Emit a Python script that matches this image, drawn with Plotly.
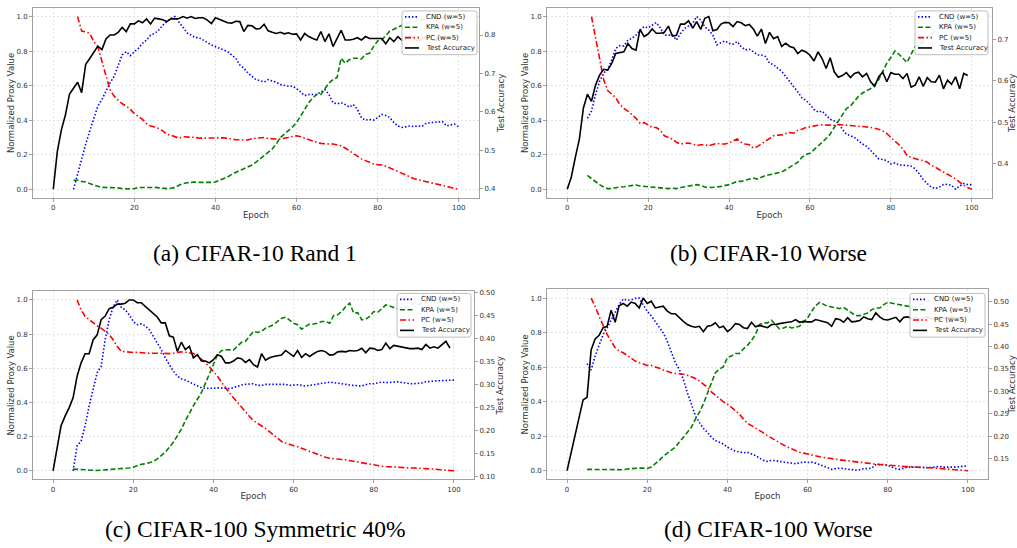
import plotly.graph_objects as go

# ---------------- data ----------------
acc_epochs = list(range(0, 100))
cnd_kpa_epochs = list(range(5, 101))
pc_epochs = list(range(6, 101))

# (a) CIFAR-10 Rand 1
a_acc = [0.398, 0.497, 0.553, 0.592, 0.646, 0.66, 0.677, 0.65, 0.724, 0.739,
         0.755, 0.771, 0.762, 0.79, 0.80, 0.80, 0.807, 0.82, 0.809, 0.829,
         0.829, 0.837, 0.832, 0.842, 0.829, 0.844, 0.842, 0.84, 0.835, 0.842,
         0.842, 0.843, 0.848, 0.844, 0.848, 0.843, 0.845, 0.845, 0.839, 0.83,
         0.845, 0.841, 0.835, 0.832, 0.831, 0.836, 0.835, 0.809, 0.825, 0.824,
         0.816, 0.817, 0.828, 0.811, 0.807, 0.804, 0.807, 0.803, 0.806, 0.802,
         0.803, 0.787, 0.804, 0.796, 0.791, 0.787, 0.809, 0.783, 0.803, 0.77,
         0.791, 0.812, 0.787, 0.787, 0.789, 0.793, 0.787, 0.796, 0.791, 0.791,
         0.791, 0.791, 0.777, 0.793, 0.783, 0.796, 0.786, 0.79, 0.795, 0.79,
         0.785, 0.79, 0.795, 0.79, 0.785, 0.79, 0.795, 0.79, 0.79, 0.795]
a_cnd = [0.0, 0.09, 0.166, 0.262, 0.338, 0.415, 0.482, 0.52, 0.568, 0.616,
         0.654, 0.72, 0.778, 0.797, 0.774, 0.797, 0.816, 0.845, 0.864, 0.893,
         0.902, 0.922, 0.95, 0.97, 0.989, 1.0, 0.97, 0.935, 0.906, 0.893,
         0.878, 0.878, 0.864, 0.845, 0.836, 0.826, 0.816, 0.807, 0.797, 0.778,
         0.759, 0.72, 0.702, 0.673, 0.654, 0.635, 0.629, 0.621, 0.635, 0.629,
         0.62, 0.606, 0.6, 0.597, 0.597, 0.583, 0.564, 0.543, 0.549, 0.549,
         0.549, 0.564, 0.577, 0.549, 0.501, 0.495, 0.501, 0.491, 0.476, 0.491,
         0.463, 0.415, 0.4, 0.405, 0.4, 0.415, 0.434, 0.428, 0.415, 0.386,
         0.367, 0.358, 0.363, 0.367, 0.363, 0.367, 0.365, 0.382, 0.386, 0.386,
         0.39, 0.392, 0.367, 0.373, 0.377, 0.361]
a_kpa = [0.052, 0.052, 0.046, 0.042, 0.033, 0.023, 0.017, 0.011, 0.011, 0.01,
         0.01, 0.008, 0.004, 0.002, 0.002, 0.004, 0.01, 0.01, 0.008, 0.01,
         0.011, 0.008, 0.004, 0.004, 0.006, 0.01, 0.023, 0.033, 0.038, 0.042,
         0.042, 0.04, 0.042, 0.04, 0.04, 0.042, 0.052, 0.061, 0.071, 0.086,
         0.1, 0.109, 0.119, 0.128, 0.141, 0.157, 0.176, 0.195, 0.214, 0.233,
         0.262, 0.3, 0.319, 0.338, 0.361, 0.386, 0.424, 0.463, 0.501, 0.53,
         0.549, 0.549, 0.583, 0.616, 0.635, 0.648, 0.759, 0.73, 0.75, 0.759,
         0.759, 0.755, 0.782, 0.788, 0.826, 0.859, 0.864, 0.893, 0.916, 0.927,
         0.94, 0.95, 0.96, 0.97, 0.97, 0.98, 0.98, 0.99, 0.99, 1.0,
         0.99, 0.99, 1.0, 0.99, 1.0, 0.99]
a_pc = [1.0, 0.916, 0.912, 0.902, 0.855, 0.826, 0.74, 0.654, 0.577, 0.539,
        0.516, 0.495, 0.482, 0.463, 0.438, 0.424, 0.405, 0.38, 0.367, 0.361,
        0.352, 0.338, 0.319, 0.313, 0.304, 0.296, 0.304, 0.304, 0.3, 0.3,
        0.296, 0.296, 0.3, 0.3, 0.3, 0.3, 0.298, 0.294, 0.289, 0.287,
        0.287, 0.287, 0.285, 0.293, 0.294, 0.296, 0.3, 0.294, 0.291, 0.291,
        0.291, 0.294, 0.3, 0.306, 0.31, 0.304, 0.296, 0.289, 0.277, 0.272,
        0.266, 0.262, 0.262, 0.262, 0.258, 0.252, 0.239, 0.224, 0.205, 0.195,
        0.176, 0.166, 0.157, 0.147, 0.143, 0.141, 0.134, 0.124, 0.113, 0.1,
        0.09, 0.08, 0.071, 0.061, 0.055, 0.05, 0.042, 0.036, 0.033, 0.027,
        0.023, 0.017, 0.01, 0.006, 0.0]

# (b) CIFAR-10 Worse
b_acc = [0.339, 0.368, 0.416, 0.46, 0.535, 0.568, 0.551, 0.59, 0.614, 0.628,
         0.626, 0.642, 0.666, 0.668, 0.67, 0.69, 0.678, 0.674, 0.724, 0.707,
         0.713, 0.725, 0.715, 0.715, 0.717, 0.732, 0.708, 0.71, 0.737, 0.737,
         0.745, 0.727, 0.743, 0.724, 0.751, 0.755, 0.721, 0.724, 0.737, 0.741,
         0.74, 0.731, 0.743, 0.74, 0.733, 0.736, 0.725, 0.708, 0.725, 0.69,
         0.717, 0.702, 0.707, 0.683, 0.691, 0.683, 0.68, 0.666, 0.674, 0.67,
         0.662, 0.648, 0.67, 0.654, 0.63, 0.656, 0.622, 0.609, 0.613, 0.62,
         0.608, 0.618, 0.621, 0.61, 0.618, 0.598, 0.587, 0.61, 0.621, 0.598,
         0.62, 0.616, 0.616, 0.606, 0.618, 0.585, 0.59, 0.61, 0.587, 0.608,
         0.598, 0.597, 0.614, 0.581, 0.602, 0.592, 0.61, 0.581, 0.618, 0.613]
b_cnd = [0.411, 0.453, 0.549, 0.625, 0.673, 0.692, 0.75, 0.816, 0.832, 0.83,
         0.864, 0.874, 0.893, 0.922, 0.941, 0.935, 0.95, 0.966, 0.935, 0.893,
         0.893, 0.893, 0.864, 0.902, 0.931, 0.946, 0.96, 1.0, 0.979, 0.941,
         0.922, 0.893, 0.836, 0.849, 0.859, 0.845, 0.84, 0.855, 0.826, 0.807,
         0.811, 0.797, 0.778, 0.778, 0.769, 0.73, 0.721, 0.702, 0.683, 0.654,
         0.625, 0.597, 0.564, 0.53, 0.516, 0.491, 0.463, 0.447, 0.453, 0.428,
         0.405, 0.396, 0.386, 0.348, 0.319, 0.31, 0.3, 0.281, 0.262, 0.249,
         0.224, 0.195, 0.176, 0.172, 0.166, 0.147, 0.153, 0.141, 0.141, 0.138,
         0.134, 0.119, 0.09, 0.057, 0.033, 0.013, 0.004, 0.013, 0.027, 0.029,
         0.023, 0.0, 0.019, 0.033, 0.027, 0.027]
b_kpa = [0.08, 0.061, 0.042, 0.027, 0.013, 0.004, 0.004, 0.01, 0.013, 0.015,
         0.019, 0.023, 0.025, 0.019, 0.017, 0.015, 0.011, 0.008, 0.006, 0.004,
         0.004, 0.006, 0.004, 0.01, 0.015, 0.019, 0.021, 0.027, 0.023, 0.013,
         0.01, 0.01, 0.013, 0.017, 0.021, 0.027, 0.036, 0.046, 0.046, 0.052,
         0.061, 0.065, 0.059, 0.071, 0.08, 0.084, 0.088, 0.092, 0.1, 0.113,
         0.128, 0.138, 0.157, 0.185, 0.201, 0.208, 0.228, 0.252, 0.272, 0.294,
         0.319, 0.358, 0.396, 0.434, 0.467, 0.482, 0.511, 0.539, 0.558, 0.572,
         0.583, 0.606, 0.635, 0.683, 0.73, 0.763, 0.801, 0.782, 0.755, 0.734,
         0.782, 0.826, 0.832, 0.859, 0.88, 0.9, 0.92, 0.94, 0.95, 0.96,
         0.97, 0.98, 0.99, 1.0, 0.99, 1.0]
b_pc = [1.0, 0.874, 0.74, 0.635, 0.572, 0.549, 0.53, 0.491, 0.468, 0.453,
        0.434, 0.411, 0.382, 0.386, 0.373, 0.358, 0.358, 0.342, 0.31, 0.3,
        0.291, 0.272, 0.262, 0.266, 0.268, 0.262, 0.252, 0.258, 0.258, 0.252,
        0.258, 0.266, 0.262, 0.262, 0.268, 0.281, 0.291, 0.272, 0.262, 0.258,
        0.239, 0.247, 0.262, 0.281, 0.291, 0.31, 0.313, 0.315, 0.323, 0.329,
        0.325, 0.342, 0.348, 0.358, 0.361, 0.367, 0.371, 0.373, 0.371, 0.371,
        0.371, 0.375, 0.373, 0.373, 0.371, 0.367, 0.367, 0.367, 0.361, 0.358,
        0.354, 0.348, 0.338, 0.323, 0.3, 0.281, 0.258, 0.233, 0.195, 0.185,
        0.176, 0.17, 0.166, 0.157, 0.138, 0.128, 0.113, 0.1, 0.09, 0.076,
        0.061, 0.042, 0.023, 0.01, 0.0]

# (c) CIFAR-100 Symmetric 40%
c_acc = [0.112, 0.166, 0.21, 0.231, 0.249, 0.271, 0.318, 0.347, 0.367, 0.367,
         0.397, 0.408, 0.441, 0.449, 0.465, 0.468, 0.475, 0.475, 0.477, 0.484,
         0.484, 0.478, 0.478, 0.47, 0.462, 0.455, 0.447, 0.434, 0.434, 0.406,
         0.403, 0.372, 0.392, 0.376, 0.383, 0.358, 0.365, 0.351, 0.351, 0.347,
         0.354, 0.365, 0.361, 0.347, 0.347, 0.351, 0.358, 0.356, 0.348, 0.354,
         0.343, 0.338, 0.367, 0.353, 0.358, 0.361, 0.363, 0.364, 0.374, 0.367,
         0.361, 0.374, 0.359, 0.367, 0.361, 0.367, 0.372, 0.374, 0.371, 0.364,
         0.365, 0.371, 0.372, 0.371, 0.374, 0.373, 0.374, 0.379, 0.369, 0.379,
         0.378, 0.374, 0.376, 0.39, 0.378, 0.385, 0.383, 0.382, 0.379, 0.378,
         0.378, 0.379, 0.376, 0.387, 0.379, 0.382, 0.379, 0.387, 0.394, 0.379]
c_cnd = [0.0, 0.147, 0.174, 0.264, 0.38, 0.477, 0.574, 0.612, 0.767, 0.884,
         0.961, 1.0, 0.957, 0.942, 0.913, 0.874, 0.855, 0.86, 0.849, 0.826,
         0.787, 0.748, 0.709, 0.661, 0.622, 0.583, 0.554, 0.539, 0.531, 0.519,
         0.506, 0.496, 0.486, 0.483, 0.481, 0.483, 0.486, 0.484, 0.484, 0.481,
         0.486, 0.496, 0.502, 0.506, 0.51, 0.51, 0.5, 0.5, 0.506, 0.506,
         0.506, 0.506, 0.51, 0.506, 0.5, 0.504, 0.504, 0.5, 0.496, 0.5,
         0.504, 0.51, 0.514, 0.519, 0.519, 0.516, 0.514, 0.51, 0.506, 0.502,
         0.5, 0.5, 0.496, 0.504, 0.51, 0.51, 0.514, 0.519, 0.516, 0.516,
         0.519, 0.521, 0.517, 0.514, 0.51, 0.51, 0.51, 0.514, 0.521, 0.525,
         0.525, 0.527, 0.527, 0.527, 0.529, 0.531]
c_kpa = [0.01, 0.01, 0.008, 0.006, 0.004, 0.002, 0.002, 0.004, 0.006, 0.008,
         0.008, 0.008, 0.012, 0.016, 0.017, 0.021, 0.031, 0.039, 0.041, 0.047,
         0.054, 0.07, 0.089, 0.109, 0.138, 0.167, 0.205, 0.244, 0.293, 0.341,
         0.38, 0.419, 0.457, 0.512, 0.564, 0.622, 0.68, 0.703, 0.709, 0.709,
         0.707, 0.729, 0.752, 0.758, 0.787, 0.816, 0.81, 0.816, 0.835, 0.845,
         0.855, 0.874, 0.893, 0.899, 0.884, 0.864, 0.855, 0.829, 0.845, 0.859,
         0.859, 0.864, 0.874, 0.874, 0.864, 0.909, 0.913, 0.932, 0.961, 0.981,
         0.922, 0.926, 0.884, 0.887, 0.903, 0.932, 0.928, 0.951, 0.971, 0.965,
         0.957, 0.946, 0.95, 0.96, 0.97, 0.98, 0.97, 0.98, 0.99, 1.0,
         0.99, 0.98, 0.99, 1.0, 0.99, 0.98]
c_pc = [1.0, 0.942, 0.903, 0.884, 0.864, 0.849, 0.835, 0.816, 0.797, 0.767,
        0.729, 0.7, 0.696, 0.694, 0.692, 0.694, 0.694, 0.69, 0.688, 0.686,
        0.688, 0.688, 0.686, 0.686, 0.688, 0.692, 0.696, 0.694, 0.69, 0.686,
        0.674, 0.655, 0.632, 0.609, 0.583, 0.554, 0.519, 0.486, 0.457, 0.428,
        0.399, 0.37, 0.345, 0.318, 0.293, 0.279, 0.264, 0.248, 0.229, 0.209,
        0.19, 0.172, 0.163, 0.153, 0.147, 0.141, 0.132, 0.124, 0.118, 0.109,
        0.099, 0.089, 0.079, 0.074, 0.07, 0.068, 0.066, 0.064, 0.06, 0.054,
        0.048, 0.045, 0.041, 0.037, 0.033, 0.029, 0.027, 0.025, 0.023, 0.021,
        0.021, 0.019, 0.019, 0.017, 0.017, 0.016, 0.016, 0.014, 0.012, 0.01,
        0.008, 0.006, 0.004, 0.002, 0.0]

# (d) CIFAR-100 Worse
d_acc = [0.123, 0.161, 0.202, 0.239, 0.281, 0.287, 0.392, 0.417, 0.425, 0.442,
         0.445, 0.481, 0.454, 0.491, 0.496, 0.49, 0.499, 0.496, 0.486, 0.508,
         0.496, 0.501, 0.486, 0.488, 0.49, 0.479, 0.473, 0.473, 0.464, 0.456,
         0.449, 0.445, 0.443, 0.445, 0.433, 0.445, 0.447, 0.453, 0.442, 0.445,
         0.433, 0.44, 0.451, 0.449, 0.442, 0.44, 0.454, 0.444, 0.447, 0.445,
         0.442, 0.449, 0.449, 0.451, 0.453, 0.454, 0.455, 0.46, 0.454, 0.456,
         0.455, 0.455, 0.46, 0.458, 0.455, 0.453, 0.445, 0.462, 0.46, 0.454,
         0.464, 0.455, 0.456, 0.458, 0.466, 0.462, 0.46, 0.475, 0.466, 0.46,
         0.459, 0.462, 0.465, 0.455, 0.465, 0.466, 0.462, 0.465, 0.46, 0.463,
         0.466, 0.461, 0.464, 0.46, 0.465, 0.462, 0.466, 0.463, 0.465, 0.462]
d_cnd = [0.62, 0.583, 0.664, 0.722, 0.789, 0.827, 0.875, 0.923, 0.962, 0.994,
         0.987, 0.99, 0.998, 1.0, 0.962, 0.923, 0.898, 0.866, 0.827, 0.798,
         0.75, 0.683, 0.626, 0.587, 0.53, 0.453, 0.386, 0.319, 0.28, 0.246,
         0.223, 0.194, 0.175, 0.165, 0.155, 0.136, 0.123, 0.113, 0.109, 0.104,
         0.107, 0.098, 0.088, 0.073, 0.06, 0.054, 0.06, 0.058, 0.054, 0.052,
         0.05, 0.044, 0.04, 0.046, 0.05, 0.048, 0.05, 0.044, 0.035, 0.027,
         0.017, 0.008, 0.012, 0.015, 0.012, 0.008, 0.008, 0.004, 0.006, 0.012,
         0.012, 0.015, 0.035, 0.036, 0.036, 0.031, 0.021, 0.012, 0.008, 0.015,
         0.021, 0.021, 0.021, 0.023, 0.019, 0.017, 0.019, 0.025, 0.025, 0.021,
         0.019, 0.021, 0.021, 0.023, 0.025, 0.029]
d_kpa = [0.008, 0.008, 0.006, 0.006, 0.006, 0.006, 0.006, 0.004, 0.004, 0.006,
         0.01, 0.013, 0.015, 0.015, 0.015, 0.013, 0.021, 0.04, 0.06, 0.084,
         0.102, 0.117, 0.136, 0.165, 0.194, 0.219, 0.251, 0.299, 0.338, 0.386,
         0.443, 0.511, 0.568, 0.587, 0.603, 0.655, 0.664, 0.679, 0.679, 0.706,
         0.726, 0.754, 0.789, 0.846, 0.856, 0.856, 0.871, 0.846, 0.821, 0.827,
         0.837, 0.827, 0.831, 0.837, 0.862, 0.885, 0.923, 0.956, 0.975, 0.962,
         0.952, 0.948, 0.942, 0.939, 0.946, 0.929, 0.914, 0.898, 0.898, 0.904,
         0.914, 0.933, 0.942, 0.942, 0.962, 0.975, 0.971, 0.967, 0.962, 0.958,
         0.952, 0.948, 0.95, 0.96, 0.97, 0.98, 0.99, 1.0, 0.99, 0.98,
         0.99, 0.98, 0.97, 0.98, 0.97, 0.98]
d_pc = [1.0, 0.952, 0.894, 0.837, 0.789, 0.75, 0.712, 0.693, 0.683, 0.668,
        0.649, 0.635, 0.626, 0.616, 0.61, 0.61, 0.603, 0.593, 0.583, 0.574,
        0.568, 0.564, 0.562, 0.559, 0.553, 0.545, 0.534, 0.52, 0.501, 0.482,
        0.457, 0.438, 0.415, 0.399, 0.386, 0.367, 0.347, 0.328, 0.299, 0.274,
        0.261, 0.248, 0.232, 0.219, 0.203, 0.19, 0.175, 0.161, 0.15, 0.136,
        0.127, 0.117, 0.107, 0.102, 0.096, 0.09, 0.084, 0.081, 0.077, 0.075,
        0.071, 0.067, 0.063, 0.06, 0.056, 0.052, 0.05, 0.048, 0.046, 0.042,
        0.04, 0.038, 0.036, 0.035, 0.033, 0.031, 0.029, 0.027, 0.025, 0.023,
        0.023, 0.021, 0.021, 0.019, 0.017, 0.017, 0.015, 0.013, 0.012, 0.01,
        0.008, 0.006, 0.004, 0.002, 0.0]

captions = ["(a) CIFAR-10 Rand 1", "(b) CIFAR-10 Worse",
            "(c) CIFAR-100 Symmetric 40%", "(d) CIFAR-100 Worse"]
series_names = ["CND (w=5)", "KPA (w=5)", "PC (w=5)", "Test Accuracy"]
right_ticks = [[0.4, 0.5, 0.6, 0.7, 0.8],
               [0.4, 0.5, 0.6, 0.7],
               [0.10, 0.15, 0.20, 0.25, 0.30, 0.35, 0.40, 0.45, 0.50],
               [0.15, 0.20, 0.25, 0.30, 0.35, 0.40, 0.45, 0.50]]
right_fmt = [".1f", ".1f", ".2f", ".2f"]

panels = [(a_acc, a_cnd, a_kpa, a_pc), (b_acc, b_cnd, b_kpa, b_pc),
          (c_acc, c_cnd, c_kpa, c_pc), (d_acc, d_cnd, d_kpa, d_pc)]

# ---------------- styles & geometry (pixels) ----------------
W, H = 1017, 548
styles = [dict(color="#0000ff", width=1.6, dash="1.5px,2px"),
          dict(color="#008000", width=1.6, dash="5px,2.5px"),
          dict(color="#ff0000", width=1.6, dash="6px,2.5px,1.5px,2.5px"),
          dict(color="#000000", width=1.6)]
frames = [(33, 479, 6, 197), (547, 992, 6, 197), (33, 474, 291, 480), (547, 988, 289, 480)]
legend_boxes = [(402, 9, 477, 53), (915, 9, 988, 53), (397, 293, 471, 337), (910, 293, 985, 337)]
caption_pos = [(255, 252), (768, 252), (255, 530), (768, 530)]

FONT = "DejaVu Sans"
SPINE = "#a0a0a0"
GRID = "#e2e2e2"

def px(x):
    return x / W

def py(y):
    return 1 - y / H

def rounded_box(x0, y0, x1, y1, r=2.5):
    pts = [("M", x0 + r, y0), ("H", x1 - r, None), ("Q", (x1, y0), (x1, y0 + r)),
           ("V", None, y1 - r), ("Q", (x1, y1), (x1 - r, y1)), ("H", x0 + r, None),
           ("Q", (x0, y1), (x0, y1 - r)), ("V", None, y0 + r), ("Q", (x0, y0), (x0 + r, y0))]
    s = ""
    for cmd, a, b in pts:
        if cmd == "M":
            s += f"M{px(a):.6f},{py(b):.6f} "
        elif cmd == "H":
            s += f"H{px(a):.6f} "
        elif cmd == "V":
            s += f"V{py(b):.6f} "
        else:
            s += f"Q{px(a[0]):.6f},{py(a[1]):.6f} {px(b[0]):.6f},{py(b[1]):.6f} "
    return s + "Z"

fig = go.Figure()
annotations = []

for i, (acc, cnd, kpa, pc) in enumerate(panels):
    xa = f"x{i+1}" if i else "x"
    yl = f"y{2*i+1}" if i else "y"
    yr = f"y{2*i+2}"
    xs = [cnd_kpa_epochs, cnd_kpa_epochs, pc_epochs, acc_epochs]
    ys = [cnd, kpa, pc, acc]
    yaxes = [yl, yl, yl, yr]
    for k in range(4):
        fig.add_trace(go.Scatter(x=xs[k], y=ys[k], mode="lines", name=series_names[k],
                                 line=styles[k], xaxis=xa, yaxis=yaxes[k], showlegend=False))

    x0, x1, y0, y1 = frames[i]
    lo, hi = min(acc), max(acc)
    pad = 0.05 * (hi - lo)
    axkey = "xaxis" if i == 0 else f"xaxis{i+1}"
    ylkey = "yaxis" if i == 0 else f"yaxis{2*i+1}"
    yrkey = f"yaxis{2*i+2}"
    tickfont = dict(family=FONT, size=7, color="#333333")
    titlefont = dict(family=FONT, size=8.5, color="#333333")
    fig.update_layout(**{
        axkey: dict(domain=[px(x0), px(x1)], anchor=yl, range=[-5, 105],
                    tickvals=[0, 20, 40, 60, 80, 100],
                    showline=True, mirror=True, linecolor=SPINE, linewidth=1,
                    ticks="outside", ticklen=3, tickcolor=SPINE, tickfont=tickfont,
                    showgrid=True, gridcolor=GRID, griddash="2px,2px", gridwidth=0.8,
                    zeroline=False,
                    title=dict(text="Epoch", font=titlefont, standoff=0)),
        ylkey: dict(domain=[py(y1), py(y0)], anchor=xa, range=[-0.05, 1.05],
                    tickvals=[0, 0.2, 0.4, 0.6, 0.8, 1.0], tickformat=".1f",
                    showline=True, mirror=True, linecolor=SPINE, linewidth=1,
                    ticks="outside", ticklen=3, tickcolor=SPINE, tickfont=tickfont,
                    showgrid=True, gridcolor=GRID, griddash="2px,2px", gridwidth=0.8,
                    zeroline=False,
                    title=dict(text="Normalized Proxy Value", font=titlefont, standoff=0)),
        yrkey: dict(overlaying=yl, side="right", anchor=xa, range=[lo - pad, hi + pad],
                    tickvals=right_ticks[i], tickformat=right_fmt[i],
                    showline=True, linecolor=SPINE, linewidth=1,
                    ticks="outside", ticklen=3, tickcolor=SPINE, tickfont=tickfont,
                    showgrid=False, zeroline=False,
                    title=dict(text="Test Accuracy", font=titlefont, standoff=0)),
    })

    # legend box (decoration in paper coordinates, above the data)
    bx0, by0, bx1, by1 = legend_boxes[i]
    fig.add_shape(type="path", xref="paper", yref="paper", layer="above",
                  path=rounded_box(bx0, by0, bx1, by1),
                  fillcolor="rgba(255,255,255,0.9)",
                  line=dict(color="#bdbdbd", width=1))
    for k in range(4):
        ry = by0 + 6.0 + 10.4 * k
        st = styles[k]
        fig.add_shape(type="line", xref="paper", yref="paper", layer="above",
                      x0=px(bx0 + 3), x1=px(bx0 + 17), y0=py(ry), y1=py(ry),
                      line=dict(color=st["color"], width=st["width"],
                                dash=st.get("dash", "solid")))
        annotations.append(dict(x=px(bx0 + 21.5), y=py(ry), xref="paper", yref="paper",
                                text=series_names[k], showarrow=False,
                                xanchor="left", yanchor="middle",
                                font=dict(family=FONT, size=7, color="#222222")))

    cx, cy = caption_pos[i]
    annotations.append(dict(x=px(cx), y=py(cy), xref="paper", yref="paper",
                            text=captions[i], showarrow=False,
                            xanchor="center", yanchor="middle",
                            font=dict(family="Liberation Serif", size=23.5, color="#000000")))

fig.update_layout(width=W, height=H, margin=dict(l=0, r=0, t=0, b=0),
                  paper_bgcolor="white", plot_bgcolor="white", showlegend=False,
                  annotations=annotations)
fig.write_html("out.html")
